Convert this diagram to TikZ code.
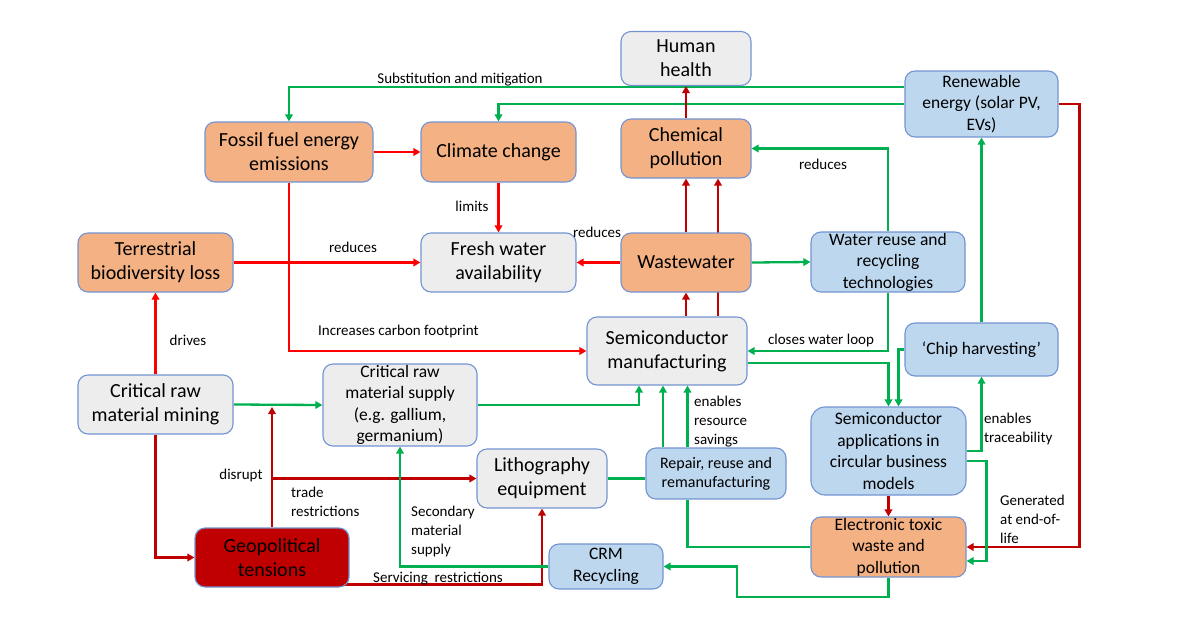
\documentclass[tikz,border=0pt]{standalone}
\usepackage{fontspec}
\setmainfont{Carlito}
\usetikzlibrary{arrows.meta,backgrounds,calc}
\definecolor{orf}{HTML}{F4B183}
\definecolor{grf}{HTML}{EDEDED}
\definecolor{blf}{HTML}{BDD7EE}
\definecolor{drf}{HTML}{C00000}
\definecolor{bord}{HTML}{7394D2}
\definecolor{lgreen}{HTML}{00B050}
\definecolor{lred}{HTML}{FF0000}
\definecolor{dred}{HTML}{C00000}
\begin{document}
\begin{tikzpicture}[x=1pt,y=-1pt,
 box/.style={draw=bord, line width=1.1pt, rounded corners=10pt, align=center, inner sep=0pt, text=black},
 big/.style={font=\fontsize{20}{24}\selectfont},
 mid/.style={font=\fontsize{17.5}{21.5}\selectfont},
 sml/.style={font=\fontsize{16}{19}\selectfont},
 lbl/.style={inner sep=0pt, align=left, yshift=-1.5pt, font=\fontsize{15}{19}\selectfont},
 con/.style={line width=2.3pt, -{Triangle[length=7pt,width=7.5pt]}},
 gr/.style={con, draw=lgreen},
 rd/.style={con, draw=lred},
 dr/.style={con, draw=dred},
 grl/.style={line width=2.3pt, draw=lgreen}
]
\useasboundingbox (0,0) rectangle (1189,637);

% nodes
\node[box,big,fill=grf,minimum width=130pt,minimum height=54pt] (hh) at (686,58.5) {Human\\health};
\node[box,mid,fill=blf,minimum width=153pt,minimum height=66pt] (ren) at (981.5,104) {Renewable\\energy (solar PV,\\EVs)};
\node[box,big,fill=orf,minimum width=168pt,minimum height=60pt] (ff) at (289,152) {Fossil fuel energy\\emissions};
\node[box,big,fill=orf,minimum width=155pt,minimum height=60pt] (cc) at (498.5,152) {Climate change};
\node[box,big,fill=orf,minimum width=130pt,minimum height=59pt] (chem) at (686,148.5) {Chemical\\pollution};
\node[box,big,fill=orf,minimum width=155pt,minimum height=59pt] (tb) at (155.5,262.5) {Terrestrial\\biodiversity loss};
\node[box,big,fill=grf,minimum width=155pt,minimum height=59pt] (fw) at (498.5,262.5) {Fresh water\\availability};
\node[box,big,fill=orf,minimum width=130pt,minimum height=59pt] (ww) at (686,262.5) {Wastewater};
\node[box,mid,fill=blf,minimum width=154pt,minimum height=60pt] (wr) at (888,262) {Water reuse and\\recycling\\technologies};
\node[box,big,fill=grf,minimum width=160pt,minimum height=68pt] (sm) at (667,351) {Semiconductor\\manufacturing};
\node[box,mid,fill=blf,minimum width=153pt,minimum height=53pt] (ch) at (981.5,349.5) {‘Chip harvesting’};
\node[box,big,fill=grf,minimum width=155pt,minimum height=59pt] (mine) at (155.5,404.5) {Critical raw\\material mining};
\node[box,mid,fill=grf,minimum width=154pt,minimum height=82pt] (sup) at (400,405) {Critical raw\\material supply\\(e.g. gallium,\\germanium)};
\node[box,mid,fill=blf,minimum width=155pt,minimum height=88pt,rounded corners=14pt] (apps) at (888.5,451) {Semiconductor\\applications in\\circular business\\models};
\node[box,big,fill=grf,minimum width=130pt,minimum height=59pt] (lith) at (542,478.5) {Lithography\\equipment};
\node[box,sml,fill=blf,minimum width=140pt,minimum height=51pt] (rep) at (716,473.5) {Repair, reuse and\\remanufacturing};
\node[box,big,fill=drf,minimum width=154pt,minimum height=59pt] (geo) at (272,557.5) {Geopolitical\\tensions};
\node[box,mid,fill=blf,minimum width=114pt,minimum height=45pt] (crm) at (606,566.5) {CRM\\Recycling};
\node[box,mid,fill=orf,minimum width=155pt,minimum height=60pt] (etw) at (888.5,547) {Electronic toxic\\waste and\\pollution};

% labels
\node[lbl] (t1) at (460,78) {Substitution and mitigation};
\node[lbl] (t2) at (472,205) {limits};
\node[lbl] (t3) at (353,246) {reduces};
\node[lbl] (t4) at (597,231) {reduces};
\node[lbl,anchor=west] (t5) at (318,330) {Increases carbon footprint};
\node[lbl] (t6) at (823,163) {reduces};
\node[lbl] (t7) at (821,339) {closes water loop};
\node[lbl] (t8) at (188,339) {drives};
\node[lbl] (t9) at (241,474) {disrupt};
\node[lbl,anchor=west] (t10) at (291,500) {trade\\restrictions};
\node[lbl] (t11) at (438,577) {Servicing\ \ restrictions};
\node[lbl,anchor=west] (t12) at (411,529.5) {Secondary\\material\\supply};
\node[lbl,anchor=west] (t13) at (694,420) {enables\\resource\\savings};
\node[lbl,anchor=west] (t14) at (984,427.5) {enables\\traceability};
\node[lbl,anchor=west] (t15) at (1000,518) {Generated\\at end-of-\\life};

% connectors
\begin{pgfonlayer}{background}
\draw[gr] (ren.west |- 0,87) -| (ff.north);
\draw[gr] (ren.west |- 0,104) -| (cc.north);
\draw[dr] (ren.east) -- ++(21,0) |- (etw.east);
\draw[rd] (ff.east) -- (cc.west);
\draw[rd] (ff.south) |- (sm.west);
\draw[rd] (cc.south) -- (fw.north);
\draw[rd] (tb.east) -- (fw.west);
\draw[rd] (ww.west) -- (fw.east);
\draw[dr] (ww.north) -- (chem.south);
\draw[dr] (sm.north -| 718,0) -- (chem.south -| 718,0);
\draw[dr] (chem.north) -- (hh.south);
\draw[dr] (ww.south |- sm.north) -- (ww.south);
\draw[gr] (ww.east) -- (wr.west);
\draw[gr] (wr.north) |- (chem.east);
\draw[gr] (wr.south) |- (sm.east);
\draw[gr] (sm.east |- 0,363) -| (apps.north);
\draw[gr] (ch.west) -| ([xshift=10pt]apps.north);
\draw[gr] (ch.north) -- (ren.south);
\draw[gr] (apps.east) -| (ch.south);
\draw[dr] (apps.south) -- (etw.north);
\draw[gr] (apps.east |- 0,461) -- ++(20,0) |- (etw.east |- 0,561);
\draw[gr] (etw.south) |- (737,597) |- (crm.east);
\draw[grl] (etw.west) -| (rep.south -| 687.5,0);
\draw[gr] (rep.north -| 663,0) -- (sm.south -| 663,0);
\draw[gr] (rep.north -| 687.5,0) -- (sm.south -| 687.5,0);
\draw[grl] (lith.east) -- (lith.east -| rep.west);
\draw[gr] (sup.east) -| ([xshift=-28pt]sm.south);
\draw[gr] (mine.east) -- (sup.west);
\draw[rd] (mine.north) -- (tb.south);
\draw[dr] (mine.south) |- (geo.west);
\draw[dr] (geo.north) -- (geo.north |- 0,407);
\draw[dr] (geo.north |- lith.west) -- (lith.west);
\draw[dr] ([xshift=-8pt,yshift=3pt]geo.south east) -| (lith.south);
\draw[gr] (crm.west) -| (sup.south);
\end{pgfonlayer}
\end{tikzpicture}
\end{document}
